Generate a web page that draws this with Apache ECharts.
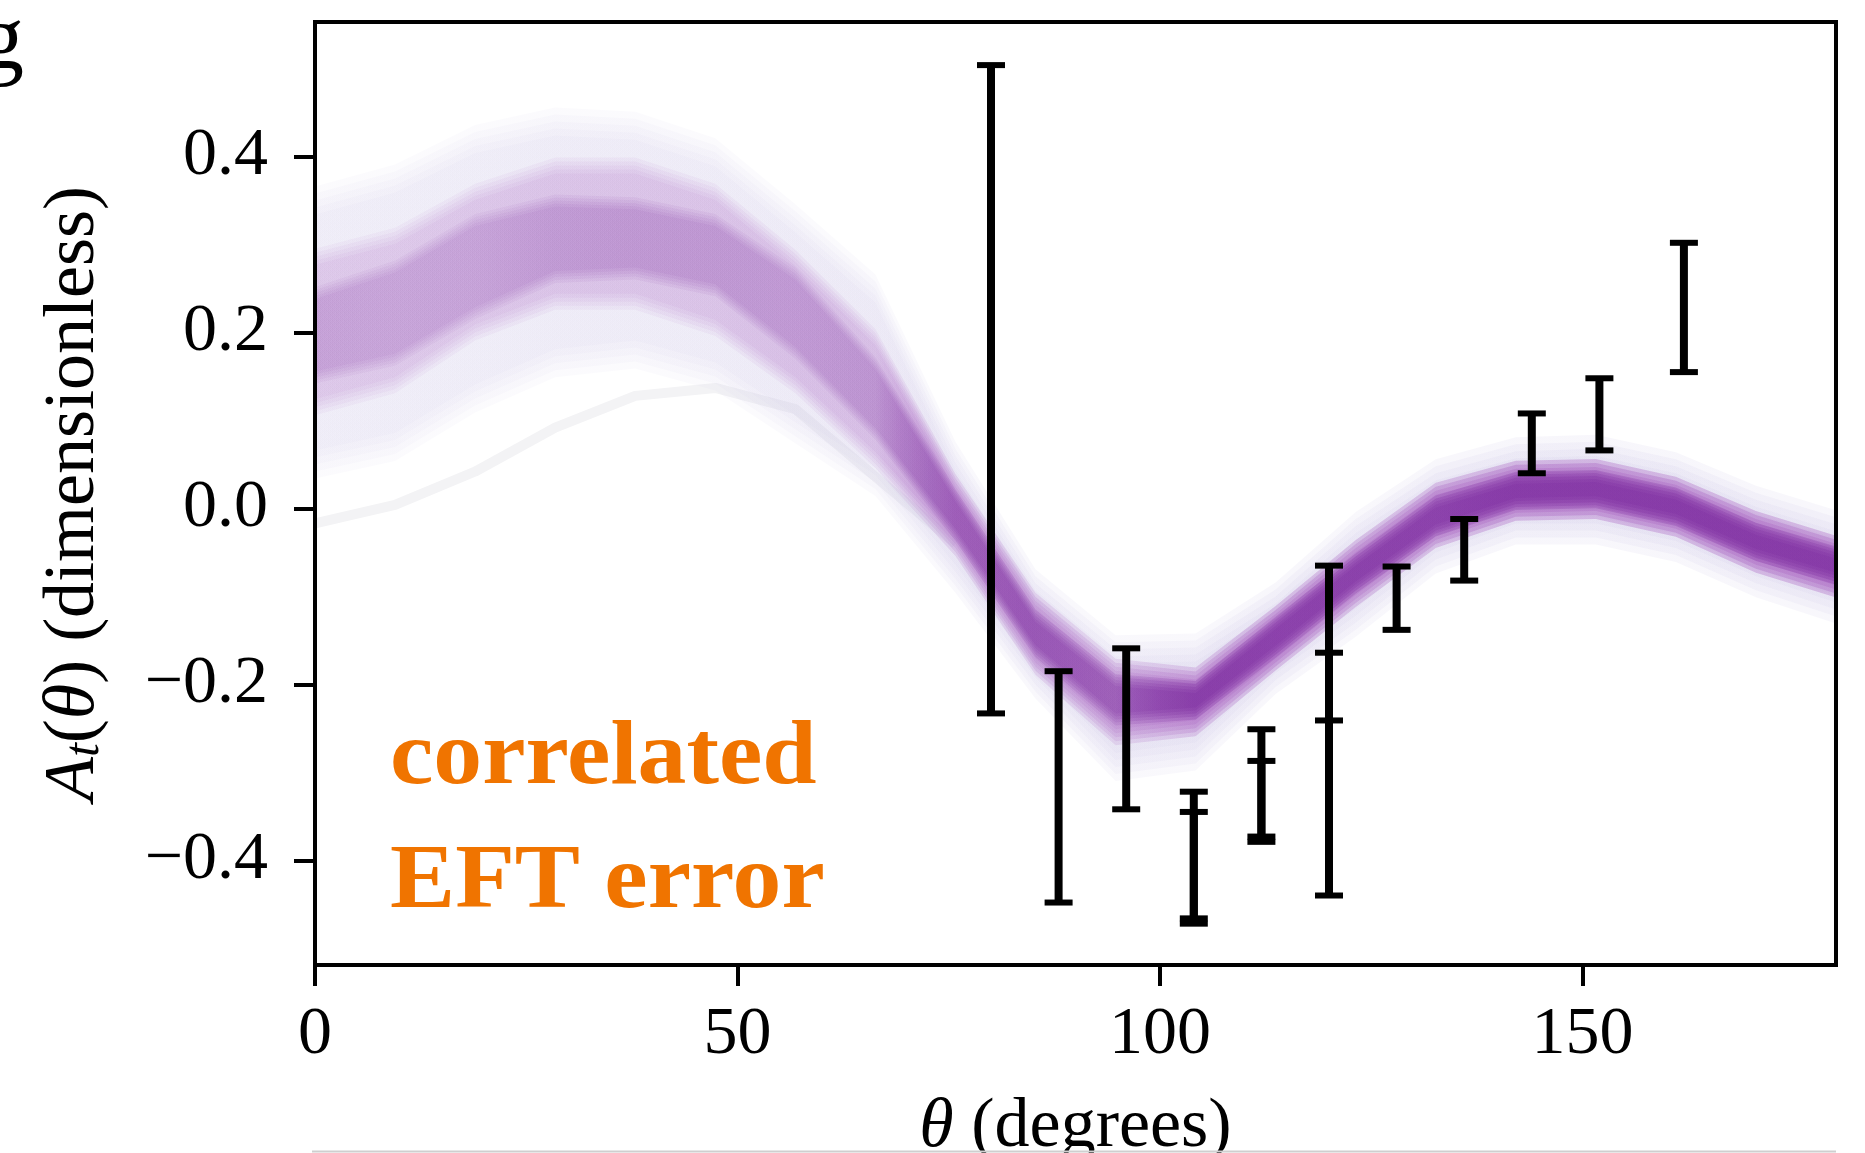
<!DOCTYPE html>
<html>
<head>
<meta charset="utf-8">
<script src="https://cdn.jsdelivr.net/npm/echarts@6/dist/echarts.min.js"></script>
<style>html,body{margin:0;padding:0;background:#fff;}#c{width:1865px;height:1153px;}</style>
</head>
<body>
<div id="c"></div>
<script>
// ---- data ----
const theta   = [0, 9.47, 18.95, 28.42, 37.89, 47.37, 56.84, 66.32, 75.79, 85.26, 94.74, 104.21, 113.68, 123.16, 132.63, 142.11, 151.58, 161.05, 170.53, 180];
const outerHi = [0.35, 0.375, 0.42, 0.44, 0.435, 0.405, 0.33, 0.25, 0.06, -0.085, -0.16, -0.158, -0.1, -0.02, 0.04, 0.065, 0.068, 0.048, 0.01, -0.018];
const midHi   = [0.286, 0.31, 0.36, 0.39, 0.39, 0.36, 0.285, 0.195, 0.03, -0.105, -0.18, -0.19, -0.12, -0.045, 0.02, 0.045, 0.047, 0.027, -0.012, -0.04];
const coreHi  = [0.245, 0.275, 0.328, 0.35, 0.347, 0.328, 0.267, 0.165, 0.015, -0.122, -0.195, -0.203, -0.13, -0.058, 0.008, 0.035, 0.037, 0.017, -0.023, -0.05];
const coreLo  = [0.149, 0.169, 0.222, 0.263, 0.267, 0.248, 0.177, 0.085, -0.03, -0.162, -0.24, -0.233, -0.163, -0.09, -0.025, 0.005, 0.007, -0.013, -0.053, -0.08];
const midLo   = [0.115, 0.14, 0.2, 0.235, 0.235, 0.205, 0.14, 0.055, -0.045, -0.18, -0.26, -0.25, -0.175, -0.103, -0.036, -0.005, -0.003, -0.023, -0.064, -0.092];
const outerLo = [0.05, 0.07, 0.125, 0.165, 0.175, 0.15, 0.09, 0.03, -0.08, -0.2, -0.294, -0.282, -0.195, -0.13, -0.058, -0.025, -0.025, -0.045, -0.085, -0.115];

const strayTheta = [0, 9.47, 18.95, 28.42, 37.89, 47.37, 56.84, 66.32, 75.79];
const strayVal   = [-0.017, 0.004, 0.042, 0.092, 0.128, 0.137, 0.113, 0.036, -0.04];

const errTheta = [80, 88, 96, 104, 104, 112, 112, 120, 120, 128, 136, 144, 152, 162];
const errLo    = [-0.233, -0.448, -0.342, -0.472, -0.466, -0.379, -0.373, -0.440, -0.241, -0.138, -0.082, 0.040, 0.066, 0.155];
const errHi    = [0.504, -0.185, -0.159, -0.322, -0.345, -0.251, -0.287, -0.164, -0.065, -0.066, -0.012, 0.108, 0.148, 0.302];

const xTicks = [0, 50, 100, 150];
const yTicks = [-0.4, -0.2, 0, 0.2, 0.4];

// ---- chart ----
const FONT = 'Liberation Serif';
const chart = echarts.init(document.getElementById('c'), null, {renderer: 'canvas'});

// one translucent band, feathered at its edges by stacking slightly grown/shrunk copies
function bandLayer(api, hiArr, loArr, rgb, alphaFn, feather) {
  const up = theta.map((t, i) => api.coord([t, hiArr[i]]));
  const dn = theta.map((t, i) => api.coord([t, loArr[i]]));
  const x0 = up[0][0], x1 = up[up.length - 1][0];
  const steps = [-1, -0.5, 0, 0.5, 1];
  const n = steps.length;
  const stops = theta.map((t, i) => {
    const w = Math.abs(dn[i][1] - up[i][1]);
    const a = alphaFn(w);
    const per = 1 - Math.pow(1 - a, 1 / n);   // so the n stacked copies composite to alpha a
    return {offset: (up[i][0] - x0) / (x1 - x0), color: 'rgba(' + rgb + ',' + per.toFixed(4) + ')'};
  });
  return steps.map(s => {
    const e = s * feather;
    const pts = up.map(p => [p[0], p[1] - e]).concat(dn.slice().reverse().map(p => [p[0], p[1] + e]));
    return {
      type: 'polygon',
      shape: {points: pts},
      style: {fill: {type: 'linear', x: x0, y: 0, x2: x1, y2: 0, global: true, colorStops: stops}}
    };
  });
}

const option = {
  animation: false,
  backgroundColor: '#fff',
  grid: {left: 315, right: 29, top: 22, bottom: 188, outerBoundsMode: 'none', containLabel: false,
         show: true, borderColor: '#000', borderWidth: 4, backgroundColor: 'transparent', z: 3},
  xAxis: {
    type: 'value', min: 0, max: 180,
    axisLine: {show: false, onZero: false},
    splitLine: {show: false},
    axisTick: {length: 21, lineStyle: {color: '#000', width: 4}, customValues: xTicks},
    axisLabel: {customValues: xTicks, fontFamily: FONT, fontSize: 68, color: '#000', margin: 36},
    name: '{it|θ} (degrees)',
    nameLocation: 'middle', nameGap: 128,
    nameTextStyle: {fontFamily: FONT, fontSize: 70, color: '#000', rich: {it: {fontFamily: FONT, fontSize: 70, fontStyle: 'italic', color: '#000'}}}
  },
  yAxis: {
    type: 'value', min: -0.519, max: 0.553,
    axisLine: {show: false, onZero: false},
    splitLine: {show: false},
    axisTick: {length: 21, lineStyle: {color: '#000', width: 4}, customValues: yTicks},
    axisLabel: {
      customValues: yTicks, fontFamily: FONT, fontSize: 68, color: '#000', margin: 47,
      formatter: v => (v < 0 ? '\u2212' : '') + Math.abs(v).toFixed(1)
    },
    name: '{it|A}{sub|t}({it|θ}) (dimensionless)',
    nameLocation: 'middle', nameGap: 205, nameRotate: 90,
    nameTextStyle: {
      fontFamily: FONT, fontSize: 72, color: '#000', lineHeight: 72,
      rich: {
        it: {fontFamily: FONT, fontSize: 72, fontStyle: 'italic', color: '#000', lineHeight: 72},
        sub: {fontFamily: FONT, fontSize: 50, fontStyle: 'italic', color: '#000', lineHeight: 32, verticalAlign: 'bottom'}
      }
    }
  },
  series: [
    {
      type: 'line', name: 'stray sample', z: 1,
      data: strayTheta.map((t, i) => [t, strayVal[i]]),
      symbol: 'none', showSymbol: false,
      lineStyle: {color: '#f3f3f5', width: 10}
    },
    {
      type: 'custom', name: 'EFT band', z: 2, clip: true,
      data: theta.map((t, i) => [t, outerHi[i], midHi[i], coreHi[i], coreLo[i], midLo[i], outerLo[i]]),
      encode: {x: 0, y: [1, 6]},
      renderItem: function (params, api) {
        if (params.dataIndex !== 0) return null;
        return {
          type: 'group',
          children: [].concat(
            bandLayer(api, outerHi, outerLo, '200,192,228', w => Math.min(0.62, 0.2 + 25 / w), 14),
            bandLayer(api, midHi, midLo, '172,104,196', w => Math.min(0.9, 42 / w), 8),
            bandLayer(api, coreHi, coreLo, '125,45,160', w => Math.min(0.93, 21 / w), 6)
          )
        };
      }
    },
    {
      type: 'custom', name: 'data', z: 5,
      data: errTheta.map((t, i) => [t, errLo[i], errHi[i]]),
      encode: {x: 0, y: [1, 2]},
      renderItem: function (params, api) {
        const x = api.value(0);
        const lo = api.coord([x, api.value(1)]);
        const hi = api.coord([x, api.value(2)]);
        const cw = 14;
        return {
          type: 'group',
          children: [
            {type: 'line', shape: {x1: lo[0], y1: lo[1], x2: hi[0], y2: hi[1]}, style: {stroke: '#000', lineWidth: 8}},
            {type: 'line', shape: {x1: lo[0] - cw, y1: lo[1], x2: lo[0] + cw, y2: lo[1]}, style: {stroke: '#000', lineWidth: 6}},
            {type: 'line', shape: {x1: hi[0] - cw, y1: hi[1], x2: hi[0] + cw, y2: hi[1]}, style: {stroke: '#000', lineWidth: 6}}
          ]
        };
      }
    }
  ],
  graphic: [
    {type: 'text', x: -22, y: 44, z: 100, style: {text: 'g', font: '92px "Liberation Serif"', fill: '#000', verticalAlign: 'middle'}},
    {type: 'text', x: 390, y: 760, scaleX: 1.085, z: 100, style: {text: 'correlated', font: 'bold 90px "Liberation Serif"', fill: '#f07400', verticalAlign: 'middle'}},
    {type: 'text', x: 390, y: 884, scaleX: 1.085, z: 100, style: {text: 'EFT error', font: 'bold 90px "Liberation Serif"', fill: '#f07400', verticalAlign: 'middle'}},
    {type: 'line', z: 100, shape: {x1: 312, y1: 1151.5, x2: 1836, y2: 1151.5}, style: {stroke: '#cfcfcf', lineWidth: 2}}
  ]
};
chart.setOption(option);
</script>
</body>
</html>
